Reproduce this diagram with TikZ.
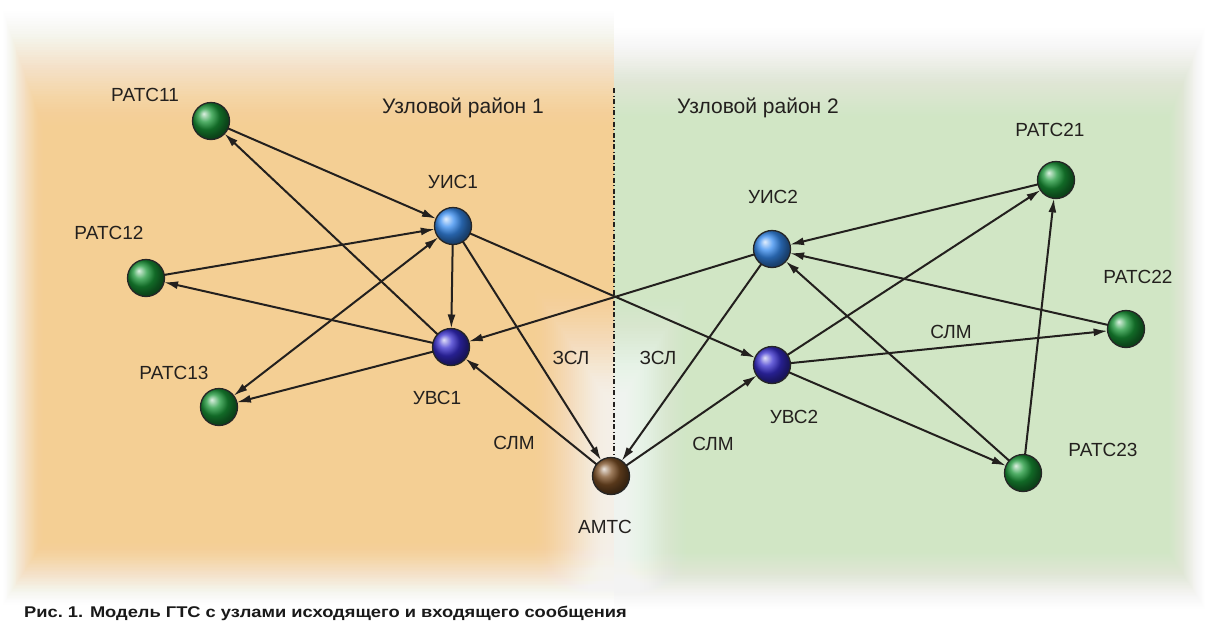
\documentclass[tikz,border=0pt]{standalone}
\usepackage{fontspec}
\setmainfont{Liberation Sans}
\newfontfamily\capfont{Liberation Sans}[FakeStretch=1.18]
\usetikzlibrary{arrows.meta}

\definecolor{obg}{RGB}{244,207,148}
\definecolor{gbg}{RGB}{209,230,197}
\definecolor{ink}{RGB}{35,32,30}
\definecolor{gball}{RGB}{25,150,55}
\definecolor{bball}{RGB}{55,140,240}
\definecolor{vball}{RGB}{55,45,205}
\definecolor{mball}{RGB}{125,80,38}

% opacity of layer #1 (0-based) out of #2 nested layers, so that the
% stacked layers reach coverage #3 with a smooth-step profile
\newcommand\layerop[3]{%
  \pgfmathsetmacro\ta{#1/#2}%
  \pgfmathsetmacro\tb{(#1+1)/#2}%
  \pgfmathsetmacro\ca{#3*(3*\ta*\ta-2*\ta*\ta*\ta)}%
  \pgfmathsetmacro\cb{#3*(3*\tb*\tb-2*\tb*\tb*\tb)}%
  \pgfmathsetmacro\op{1-(1-\cb)/(1-\ca)}%
}

\tikzset{
  sphere/.style={circle, minimum size=37pt, inner sep=0pt, outer sep=0pt,
                 draw=black!85, line width=1.3pt},
  rats/.style={sphere, ball color=gball},
  uis/.style={sphere, ball color=bball},
  uvs/.style={sphere, ball color=vball},
  amts/.style={sphere, ball color=mball},
  lbl/.style={text=ink, inner sep=0pt, font=\fontsize{19}{21}\selectfont},
  region/.style={text=ink, inner sep=0pt, font=\fontsize{21}{24}\selectfont},
  tipx/.tip={Latex[length=14pt,width=8pt]},
  conn/.style={line width=2pt, draw=ink, -tipx},
  both/.style={line width=2pt, draw=ink, tipx-tipx},
  divider/.style={line width=1.5pt, draw=ink, dash pattern=on 5pt off 2.5pt on 1.2pt off 2.5pt},
}

\begin{document}
\begin{tikzpicture}[x=1pt,y=-1pt]
  \useasboundingbox (0,0) rectangle (1209,635);
  \fill[white] (0,0) rectangle (1209,635);

  % soft-edged district backgrounds built from nested translucent layers
  \foreach \i in {0,...,49} {
    \layerop{\i}{50}{0.999}
    \fill[obg, opacity=\op] ({2+0.9*\i},{8+2.6*\i}) rectangle (614,{606-1.4*\i});
    \fill[gbg, opacity=\op] (614,{26+2.2*\i}) rectangle ({1206-0.9*\i},{610-1.4*\i});
  }
  % pale band along the lower part of the boundary
  \foreach \i in {0,...,39} {
    \layerop{\i}{40}{0.85}
    \fill[white, opacity=\op] ({529+2.1*\i},{280+3.2*\i}) rectangle ({699-2.1*\i},620);
  }

  % district boundary
  \coordinate (dtop) at (614,88);
  \coordinate (dbot) at (614,455);
  \draw[divider] (dtop) -- (dbot);

  % exchanges
  \node[rats] (r11) at (211,121) {};
  \node[rats] (r12) at (146,278) {};
  \node[rats] (r13) at (219,407) {};
  \node[uis]  (u1)  at (453,226) {};
  \node[uvs]  (v1)  at (451,347) {};
  \node[amts] (am)  at (611,476) {};
  \node[uis]  (u2)  at (772,249) {};
  \node[uvs]  (v2)  at (772,365) {};
  \node[rats] (r21) at (1056,180) {};
  \node[rats] (r22) at (1126,329) {};
  \node[rats] (r23) at (1023,473) {};

  % names of exchanges
  \node[lbl] (tr11) at (145,95)  {РАТС11};
  \node[lbl] (tr12) at (109,233) {РАТС12};
  \node[lbl] (tr13) at (174,373) {РАТС13};
  \node[lbl] (tu1)  at (453,182) {УИС1};
  \node[lbl] (tv1)  at (437,398) {УВС1};
  \node[lbl] (tam)  at (605,527) {АМТС};
  \node[lbl] (tu2)  at (773,197) {УИС2};
  \node[lbl] (tv2)  at (794,417) {УВС2};
  \node[lbl] (tr21) at (1050,130) {РАТС21};
  \node[lbl] (tr22) at (1138,277) {РАТС22};
  \node[lbl] (tr23) at (1103,450) {РАТС23};

  % district names
  \node[region] (d1) at (463,108) {Узловой район 1};
  \node[region] (d2) at (758,108) {Узловой район 2};

  % trunk labels
  \node[lbl] (z1) at (571,358) {ЗСЛ};
  \node[lbl] (z2) at (658,358) {ЗСЛ};
  \node[lbl] (s1) at (514,443) {СЛМ};
  \node[lbl] (s2) at (713,444) {СЛМ};
  \node[lbl] (s3) at (951,332) {СЛМ};

  % district 1
  \draw[conn] (r11) -- (u1);
  \draw[conn] (v1) -- (r11);
  \draw[conn] (r12) -- (u1);
  \draw[conn] (v1) -- (r12);
  \draw[both] (r13) -- (u1);
  \draw[conn] (v1) -- (r13);
  \draw[conn] (u1) -- (v1);
  % inter-district and long-distance trunks
  \draw[conn] (u1) -- (am);
  \draw[conn] (am) -- (v1);
  \draw[conn] (u1) -- (v2);
  \draw[conn] (u2) -- (v1);
  \draw[conn] (u2) -- (am);
  \draw[conn] (am) -- (v2);
  % district 2
  \draw[conn] (r21) -- (u2);
  \draw[conn] (r22) -- (u2);
  \draw[conn] (r23) -- (u2);
  \draw[conn] (r23) -- (r21);
  \draw[conn] (v2) -- (r22);
  \draw[conn] (v2) -- (r23);
  \draw[conn] (v2) -- (r21);

  % caption
  \node[anchor=west, inner sep=0pt, text=black!90,
        font=\capfont\bfseries\fontsize{15.5}{18}\selectfont] (cap) at (24,613)
        {Рис.~1. Модель ГТС с узлами исходящего и входящего сообщения};
\end{tikzpicture}
\end{document}
